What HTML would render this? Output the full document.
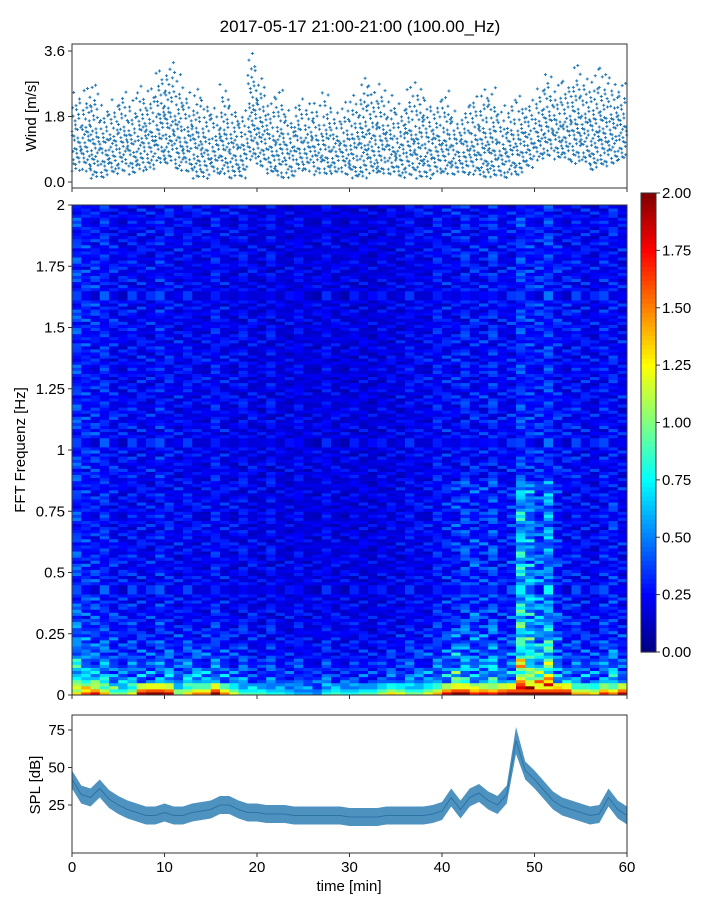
<!DOCTYPE html>
<html><head><meta charset="utf-8"><style>
body{margin:0;background:#fff;font-family:"Liberation Sans",sans-serif}
svg text{font-family:"Liberation Sans",sans-serif;fill:#000}
</style></head><body>
<svg id="fig" width="720" height="900" viewBox="0 0 720 900" xmlns="http://www.w3.org/2000/svg">
<text x="360" y="32" font-size="17" text-anchor="middle">2017-05-17 21:00-21:00 (100.00_Hz)</text>
<g id="wind"></g>
<g id="spec"></g>
<g id="cbar"></g>
<g id="spl"></g>
</svg>
<script>
const minutes=[...Array(60).keys()];
const windMin=[0.3,0.3,0.1,0.1,0.2,0.3,0.2,0.3,0.3,0.5,0.5,0.3,0.3,0.1,0.1,0.2,0.2,0.1,0.1,0.6,0.4,0.2,0.1,0.1,0.3,0.3,0.2,0.2,0.2,0.2,0.1,0.1,0.2,0.2,0.2,0.1,0.2,0.1,0.1,0.2,0.2,0.2,0.2,0.2,0.1,0.1,0.1,0.2,0.2,0.4,0.6,0.7,0.6,0.6,0.5,0.5,0.3,0.4,0.5,0.6];
const windMax=[2.6,2.7,2.7,2.2,2.3,2.6,2.4,2.7,2.6,3.2,3.4,3.1,2.6,2.7,2.4,2.2,2.7,2.2,2.1,3.6,2.9,2.4,2.6,2.0,2.4,2.3,2.2,2.5,2.0,2.2,2.4,3.0,2.8,2.7,2.4,2.2,2.6,2.8,2.4,2.3,2.5,2.0,2.1,2.5,2.7,2.6,2.1,2.3,2.4,2.4,2.6,3.0,2.8,2.9,3.3,3.0,3.1,3.2,2.9,2.8];
const splMean=[42,32,30,36,29,25,22,20,18,18,20,18,18,20,21,22,25,25,22,20,20,19,19,19,18,18,18,18,18,18,17,17,17,17,18,18,18,18,18,19,21,30,22,30,33,28,25,32,68,48,42,35,28,24,22,20,18,19,30,22,18];
const colLevel=[0.3,0.32,0.3,0.27,0.26,0.25,0.25,0.25,0.26,0.27,0.26,0.25,0.23,0.23,0.24,0.24,0.24,0.23,0.22,0.22,0.21,0.22,0.21,0.21,0.2,0.2,0.2,0.21,0.2,0.2,0.2,0.2,0.2,0.2,0.21,0.22,0.22,0.23,0.24,0.24,0.26,0.27,0.26,0.26,0.28,0.27,0.26,0.27,0.3,0.32,0.3,0.3,0.27,0.26,0.26,0.25,0.25,0.26,0.27,0.26];
const lowMid=[0.8,0.8,0.7,0.5,0.55,0.5,0.5,0.45,0.45,0.5,0.5,0.45,0.5,0.55,0.5,0.45,0.45,0.35,0.35,0.35,0.3,0.3,0.3,0.3,0.3,0.3,0.3,0.3,0.3,0.3,0.3,0.3,0.3,0.3,0.35,0.35,0.35,0.35,0.4,0.4,0.5,0.8,0.45,0.55,0.55,0.5,0.5,0.5,1.1,1.1,1.2,1.0,0.7,0.5,0.45,0.45,0.45,0.5,0.55,0.45];
const midBoost=[0,0,0,0,0,0,0,0,0,0,0,0,0,0,0,0,0,0,0,0,0,0,0,0,0,0,0,0,0,0,0,0,0,0,0,0,0,0,0,0,0.02,0.05,0.05,0.08,0.05,0.05,0.02,0.05,0.25,0.22,0.1,0.15,0.03,0,0,0,0,0,0.03,0];
const lowBand=[1.3,1.6,1.8,1.4,1.0,1.0,1.2,1.9,2,2,1.9,1.0,1.3,1.5,1.5,2,1.5,1.2,0.9,0.9,0.9,0.8,0.8,0.7,0.6,0.6,0.5,0.8,0.9,0.8,0.8,0.9,0.9,1.1,1.3,1.2,1.0,1.0,1.2,1.4,1.8,2,2,1.7,1.8,1.7,1.9,2,2,2,2,2,2,2,1.4,1.4,1.3,1.7,1.5,1.9];
const rowTex=[1.0,0.7,1.3,0.9,0.6,1.5,1.1,0.8,1.2,0.5,1.0,1.6,0.9,0.7,1.1,1.3,0.6,1.0,1.4,0.8,1.2,0.7,0.95,1.25];
const windTicks=[0,1.8,3.6], freqTicks=[0,0.25,0.5,0.75,1,1.25,1.5,1.75,2], cbTicks=[0,0.25,0.5,0.75,1,1.25,1.5,1.75,2], timeTicks=[0,10,20,30,40,50,60], splTicks=[25,50,75];
const NS="http://www.w3.org/2000/svg";
function mk(p,t,a,txt){const e=document.createElementNS(NS,t);for(const k in a)e.setAttribute(k,a[k]);if(txt!==undefined)e.textContent=txt;p.appendChild(e);return e;}
const X0=72,X1=627;const xs=m=>X0+(X1-X0)*m/60;
function jet(v){v=Math.max(0,Math.min(1,v));const c=x=>Math.round(255*Math.max(0,Math.min(1,1.5-Math.abs(4*v-x))));return `rgb(${c(3)},${c(2)},${c(1)})`;}
// wind
const W=document.getElementById('wind');const wy=v=>182-v*(182-51)/3.6;
minutes.forEach(m=>{let j=0;for(let v=windMin[m];v<=windMax[m]+1e-6;v+=0.15,j++){const sparse=(v-windMin[m])/(windMax[m]-windMin[m]+0.01);const n=sparse<0.5?3:(sparse<0.8?2:1);for(let k=0;k<n;k++){const vv=v+((k*0.07+m*0.05+j*0.03)%0.12);if(vv>windMax[m])continue;const x=xs(m+((j*0.37+k*0.41+m*0.13)%1)),y=wy(vv);
const p=mk(W,'path',{d:`M${x-1.5} ${y}h3M${x} ${y-1.5}v3`,stroke:'#1f77b4','stroke-width':1});

}}});
mk(W,'rect',{x:X0,y:44,width:X1-X0,height:144,fill:'none',stroke:'#333','stroke-width':1,});
windTicks.forEach(t=>{const y=wy(t);mk(W,'line',{x1:X0-4,x2:X0,y1:y,y2:y,stroke:'#333',});mk(W,'text',{x:X0-7,y:y+5,'font-size':15,'text-anchor':'end',},t.toFixed(1));});
timeTicks.forEach(t=>mk(W,'line',{x1:xs(t),x2:xs(t),y1:188,y2:192,stroke:'#333',}));
mk(W,'text',{x:36,y:116,'font-size':15,'text-anchor':'middle',transform:'rotate(-90 36 116)',},'Wind [m/s]');
// spectrogram
const S=document.getElementById('spec');const SY0=205,SY1=695,NR=160;const fy=f=>SY1-(SY1-SY0)*f/2;
minutes.forEach(m=>{for(let r=0;r<NR;r++){const f=(r+0.5)*2/NR;const tex=rowTex[(r*7+m*m*3+((r*r)>>2)+m*11)%24];
let v=colLevel[m]*tex+lowMid[m]*Math.exp(-f/0.12)*tex+(f<0.88?midBoost[m]*tex:0);
if(f<0.045)v=Math.max(v,lowBand[m]*(r==0?1:(r==1?0.8:0.6)));
const c=mk(S,'rect',{x:xs(m),y:fy((r+1)*2/NR),width:(X1-X0)/60+0.5,height:(SY1-SY0)/NR+0.5,fill:jet(v/2)});

}});
mk(S,'rect',{x:X0,y:SY0,width:X1-X0,height:SY1-SY0,fill:'none',stroke:'#333',});
freqTicks.forEach(t=>{const y=fy(t);mk(S,'line',{x1:X0-4,x2:X0,y1:y,y2:y,stroke:'#333',});mk(S,'text',{x:X0-7,y:y+5,'font-size':15,'text-anchor':'end',},String(t));});
timeTicks.forEach(t=>mk(S,'line',{x1:xs(t),x2:xs(t),y1:SY1,y2:SY1+4,stroke:'#333',}));
mk(S,'text',{x:25,y:450,'font-size':15,'text-anchor':'middle',transform:'rotate(-90 25 450)',},'FFT Frequenz [Hz]');
// colorbar
const C=document.getElementById('cbar');const CY0=193,CY1=652;const cy=v=>CY1-(CY1-CY0)*v/2;
for(let i=0;i<100;i++){mk(C,'rect',{x:641,y:CY1-(i+1)*(CY1-CY0)/100,width:15,height:(CY1-CY0)/100+0.6,fill:jet((i+0.5)/100),});}
mk(C,'rect',{x:641,y:CY0,width:15,height:CY1-CY0,fill:'none',stroke:'#333',});
cbTicks.forEach(t=>{const y=cy(t);mk(C,'line',{x1:656,x2:660,y1:y,y2:y,stroke:'#333',});mk(C,'text',{x:662,y:y+5,'font-size':15,},t.toFixed(2));});
// SPL
const P=document.getElementById('spl');const py=v=>842.5-v*1.5;
let up='',lo='',mid='';
splMean.forEach((v,i)=>{const w=(i==48?9:6);up+=(i?'L':'M')+xs(i)+' '+py(v+w);lo='L'+xs(i)+' '+py(v-w)+lo;mid+=(i?'L':'M')+xs(i)+' '+py(v);});
mk(P,'path',{d:up+lo+'Z',fill:'#2f7fb5','fill-opacity':0.85,});
mk(P,'path',{d:mid,fill:'none',stroke:'#2c74a6','stroke-width':1,});
mk(P,'rect',{x:X0,y:715,width:X1-X0,height:138,fill:'none',stroke:'#333',});
splTicks.forEach(t=>{const y=py(t);mk(P,'line',{x1:X0-4,x2:X0,y1:y,y2:y,stroke:'#333',});mk(P,'text',{x:X0-7,y:y+5,'font-size':15,'text-anchor':'end',},String(t));});
timeTicks.forEach(t=>{mk(P,'line',{x1:xs(t),x2:xs(t),y1:853,y2:857,stroke:'#333',});mk(P,'text',{x:xs(t),y:872,'font-size':15,'text-anchor':'middle',},String(t));});
mk(P,'text',{x:40,y:785,'font-size':15,'text-anchor':'middle',transform:'rotate(-90 40 785)',},'SPL [dB]');
mk(P,'text',{x:349,y:891,'font-size':15,'text-anchor':'middle',},'time [min]');
</script>
</body></html>
